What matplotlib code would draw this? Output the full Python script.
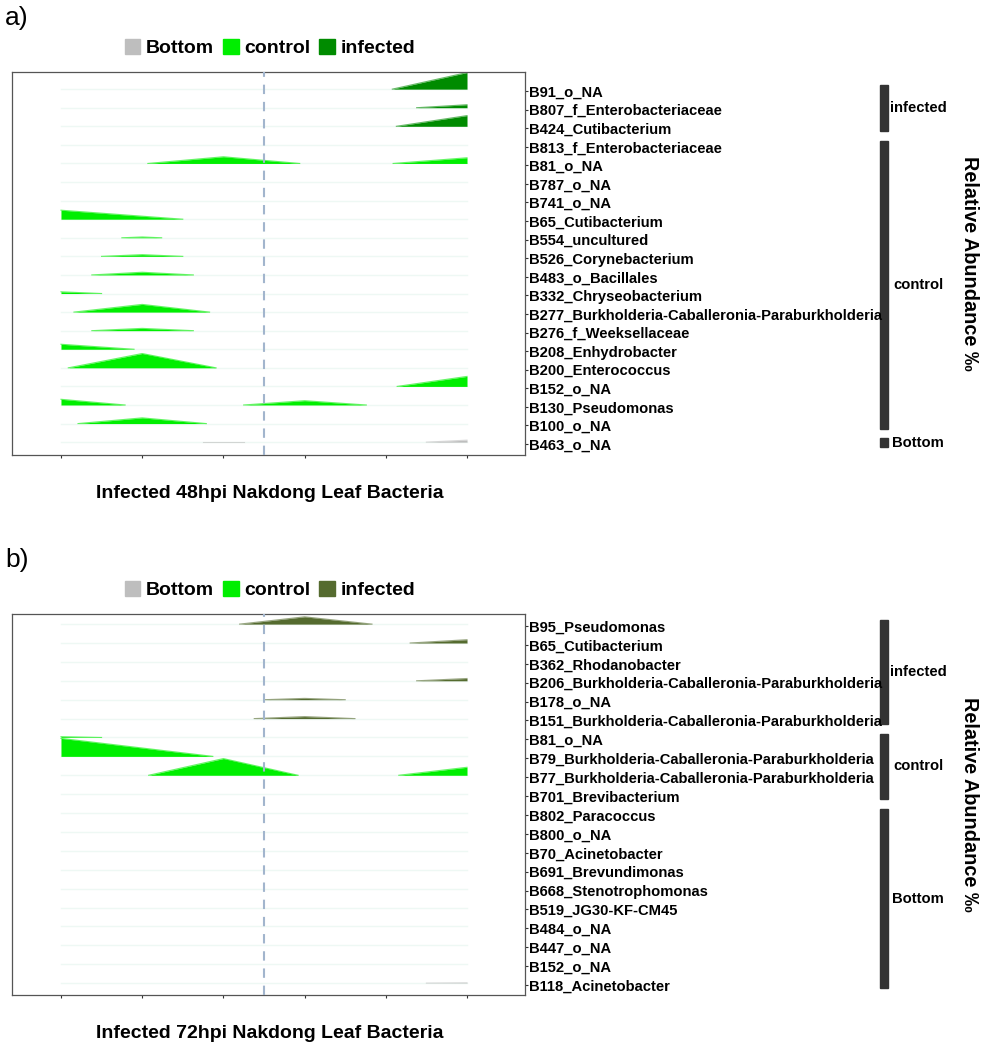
import matplotlib
matplotlib.use('Agg')
import matplotlib.pyplot as plt
from matplotlib.patches import Patch, Rectangle
import numpy as np

plt.rcParams['font.family'] = ['Liberation Sans', 'DejaVu Sans']

# ---- panel a data (48hpi) ----
labels_a = ['B91_o_NA', 'B807_f_Enterobacteriaceae', 'B424_Cutibacterium',
            'B813_f_Enterobacteriaceae', 'B81_o_NA', 'B787_o_NA', 'B741_o_NA',
            'B65_Cutibacterium', 'B554_uncultured', 'B526_Corynebacterium',
            'B483_o_Bacillales', 'B332_Chryseobacterium',
            'B277_Burkholderia-Caballeronia-Paraburkholderia',
            'B276_f_Weeksellaceae', 'B208_Enhydrobacter', 'B200_Enterococcus',
            'B152_o_NA', 'B130_Pseudomonas', 'B100_o_NA', 'B463_o_NA']
groups_a = ['infected'] * 3 + ['control'] * 16 + ['Bottom']
# ridge knots (position, relative abundance) for each taxon
ridges_a = [
    [[(4.08, 0), (5.0, 16.6)]],
    [[(4.38, 0), (5.0, 3.0)]],
    [[(4.13, 0), (5.0, 10.7)]],
    [],
    [[(1.07, 0), (2.0, 6.7), (2.94, 0)], [(4.09, 0), (5.0, 5.7)]],
    [],
    [],
    [[(0.0, 9.0), (1.5, 0)]],
    [[(0.75, 0), (1.0, 0.8), (1.24, 0)]],
    [[(0.5, 0), (1.0, 1.7), (1.5, 0)]],
    [[(0.38, 0), (1.0, 2.7), (1.63, 0)]],
    [[(0.0, 1.7), (0.5, 0)]],
    [[(0.16, 0), (1.0, 7.7), (1.83, 0)]],
    [[(0.38, 0), (1.0, 2.3), (1.63, 0)]],
    [[(0.0, 5.0), (0.9, 0)]],
    [[(0.09, 0), (1.0, 14.3), (1.91, 0)]],
    [[(4.14, 0), (5.0, 10.0)]],
    [[(0.0, 5.7), (0.79, 0)], [(2.25, 0), (3.0, 4.3), (3.76, 0)]],
    [[(0.21, 0), (1.0, 5.7), (1.79, 0)]],
    [[(1.75, 0.6), (2.25, 0.6)], [(4.5, 0), (5.0, 2.0)]],
]

# ---- panel b data (72hpi) ----
labels_b = ['B95_Pseudomonas', 'B65_Cutibacterium', 'B362_Rhodanobacter',
            'B206_Burkholderia-Caballeronia-Paraburkholderia', 'B178_o_NA',
            'B151_Burkholderia-Caballeronia-Paraburkholderia', 'B81_o_NA',
            'B79_Burkholderia-Caballeronia-Paraburkholderia',
            'B77_Burkholderia-Caballeronia-Paraburkholderia', 'B701_Brevibacterium',
            'B802_Paracoccus', 'B800_o_NA', 'B70_Acinetobacter', 'B691_Brevundimonas',
            'B668_Stenotrophomonas', 'B519_JG30-KF-CM45', 'B484_o_NA', 'B447_o_NA',
            'B152_o_NA', 'B118_Acinetobacter']
groups_b = ['infected'] * 6 + ['control'] * 4 + ['Bottom'] * 10
ridges_b = [
    [[(2.2, 0), (3.0, 7.3), (3.83, 0)]],
    [[(4.3, 0), (5.0, 3.3)]],
    [],
    [[(4.38, 0), (5.0, 2.3)]],
    [[(2.5, 0), (3.0, 1.3), (3.5, 0)]],
    [[(2.38, 0), (3.0, 2.0), (3.62, 0)]],
    [[(0.0, 0.8), (0.5, 0)]],
    [[(0.0, 18.0), (1.87, 0)]],
    [[(1.08, 0), (2.0, 16.7), (2.92, 0)], [(4.16, 0), (5.0, 8.0)]],
    [], [], [], [], [], [], [], [], [], [],
    [[(4.5, 0), (5.0, 0.3)]],
]

colors_a = {'Bottom': '#BEBEBE', 'control': '#00EE00', 'infected': '#008B00'}
colors_b = {'Bottom': '#BEBEBE', 'control': '#00EE00', 'infected': '#556B2F'}
group_order = ['Bottom', 'control', 'infected']

W, H = 993, 1044
fig = plt.figure(figsize=(W / 100, H / 100), dpi=100)


def draw_panel(top_px, bot_px, first_px, last_px, labels, groups, ridges,
               colors, title, letter):
    n = len(labels)
    ax = fig.add_axes([12 / W, 1 - bot_px / H, 513 / W, (bot_px - top_px) / H])
    row_px = (last_px - first_px) / (n - 1)
    ys = np.arange(n)[::-1].astype(float)
    lab_y = ys - 0.1
    # baselines
    for y in ys:
        ax.plot([0, 5], [y, y], color='#EEF8F4', lw=1, zorder=1)
    for i in range(n):
        y = ys[i]
        c = colors[groups[i]]
        for seg in ridges[i]:
            xs = [p[0] for p in seg]
            hs = np.array([p[1] for p in seg]) / row_px
            ax.fill_between(xs, y, y + hs, color=c, lw=0, zorder=2 + i)
            ax.plot(xs, y + hs, color=c, lw=0.8, alpha=0.6, zorder=2 + i)
    ax.axvline(2.5, color='#A2B5CD', lw=1.5, ls=(0, (4.5, 3.75)), zorder=50)
    ax.set_xlim(-0.603, 5.714)
    ax.set_ylim(-0.1 - (bot_px - last_px) / row_px,
                n - 1 - 0.1 + (first_px - top_px) / row_px)
    ax.set_xticks(np.arange(6))
    ax.set_xticklabels([])
    ax.yaxis.tick_right()
    ax.set_yticks(lab_y)
    ax.set_yticklabels(labels, fontsize=10.6, fontweight='bold')
    ax.tick_params(length=2.5, width=0.8, color='#333333', pad=0.3)
    for s in ax.spines.values():
        s.set_color('#555555')
        s.set_linewidth(0.9)

    # group brackets on the right
    tr = ax.get_yaxis_transform()
    bx = (880 - 12) / 513
    bw = 8 / 513
    tx = (918 - 12) / 513
    for g in group_order:
        idx = [i for i in range(n) if groups[i] == g]
        if not idx:
            continue
        y0 = lab_y[max(idx)] - 0.17
        y1 = lab_y[min(idx)] + 0.3
        ax.add_patch(Rectangle((bx, y0), bw, y1 - y0, transform=tr,
                               color='#333333', clip_on=False))
        ax.text(tx, (y0 + y1) / 2, g, transform=tr, ha='center', va='center',
                fontsize=10.6, fontweight='bold')

    # legend above
    handles = [Patch(color=colors[g], label=g) for g in group_order]
    ax.legend(handles=handles, loc='center', ncol=3, frameon=False,
              bbox_to_anchor=(0.503, 1 + 24 / (bot_px - top_px)),
              prop={'size': 14, 'weight': 'bold'}, handlelength=0.8,
              handleheight=0.8, handletextpad=0.3, columnspacing=0.45)

    fig.text(270 / W, 1 - (bot_px + 39) / H, title, ha='center', va='center',
             fontsize=14, fontweight='bold')
    fig.text(970 / W, 1 - (top_px + bot_px) / 2 / H, 'Relative Abundance ‰',
             rotation=-90, ha='center', va='center', fontsize=14.3,
             fontweight='bold')
    fig.text(5 / W, 1 - (top_px - 54) / H, letter, ha='left', va='center',
             fontsize=19)
    return ax


draw_panel(72, 455, 91, 444, labels_a, groups_a, ridges_a, colors_a,
           'Infected 48hpi Nakdong Leaf Bacteria', 'a)')
draw_panel(614, 995, 626, 985, labels_b, groups_b, ridges_b, colors_b,
           'Infected 72hpi Nakdong Leaf Bacteria', 'b)')

fig.savefig('out.png', dpi=100)
